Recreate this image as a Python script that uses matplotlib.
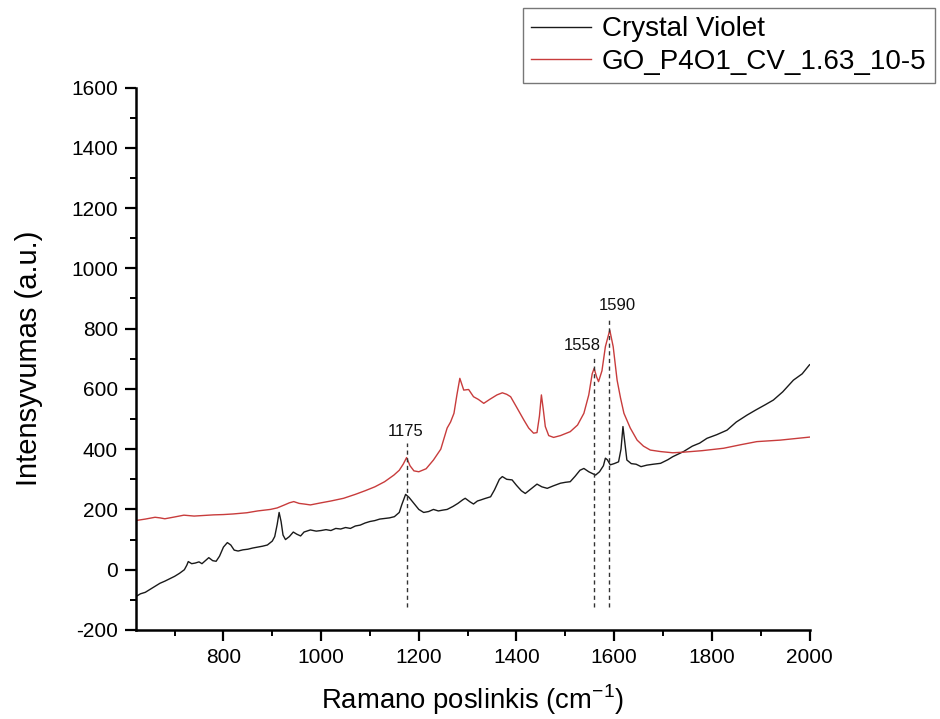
import matplotlib
matplotlib.use("Agg")
import matplotlib.pyplot as plt
from matplotlib.ticker import MultipleLocator

plt.rcParams['font.family'] = ['Liberation Sans', 'DejaVu Sans']
plt.rcParams['axes.unicode_minus'] = False

cv_x = [620, 630, 640, 650, 660, 670, 680, 690, 700, 710, 720, 725, 728, 735, 742, 750, 756, 763, 770, 778,
        785, 792, 800, 808, 815, 822, 830, 840, 850, 860, 870, 880, 890, 900, 905, 910, 914, 918, 922, 927,
        935, 943, 950, 958, 965, 978, 990, 1000, 1010, 1020, 1030, 1040, 1050, 1060, 1070, 1080, 1090, 1100,
        1110, 1120, 1130, 1140, 1150, 1160, 1165, 1173, 1180, 1190, 1200, 1210, 1220, 1230, 1240, 1250, 1258,
        1270, 1280, 1290, 1295, 1305, 1312, 1320, 1326, 1335, 1347, 1355, 1365, 1371, 1380, 1391, 1400, 1410,
        1418, 1425, 1435, 1442, 1452, 1463, 1475, 1490, 1500, 1510, 1520, 1530, 1538, 1548, 1562, 1570, 1578,
        1582, 1586, 1592, 1600, 1609, 1614, 1618, 1622, 1626, 1635, 1645, 1655, 1667, 1680, 1695, 1710, 1720,
        1742, 1760, 1775, 1790, 1810, 1831, 1850, 1872, 1890, 1910, 1926, 1945, 1967, 1985, 2000]
cv_y = [-90, -80, -75, -65, -55, -45, -38, -30, -22, -12, 0, 15, 27, 20, 22, 26, 20, 30, 40, 30,
        28, 45, 75, 90, 82, 65, 62, 66, 68, 72, 75, 78, 82, 95, 110, 150, 190, 160, 115, 100,
        110, 125, 118, 112, 125, 132, 128, 130, 133, 130, 137, 135, 140, 137, 145, 148, 155, 160,
        163, 168, 170, 172, 176, 190, 215, 250, 240, 220, 200, 190, 193, 200, 195, 198, 200,
        210, 220, 232, 237, 225, 218, 228, 231, 236, 242, 265, 300, 309, 300, 298, 280, 262,
        253, 262, 275, 284, 275, 270, 278, 287, 290, 292, 310, 330, 336, 325, 314, 325, 345,
        370, 365, 348, 352, 358, 400, 475, 420, 364, 352, 350, 342, 347, 350, 353, 365, 375,
        392, 410, 420, 436, 448, 463, 490, 513, 530, 548, 563, 590, 629, 650, 680]

go_x = [620, 640, 660, 670, 680, 700, 719, 740, 760, 780, 800, 820, 848, 870, 896, 910, 925, 935, 944, 955,
        965, 978, 1000, 1020, 1046, 1070, 1090, 1110, 1130, 1149, 1160, 1168, 1175, 1182, 1190, 1200, 1215,
        1230, 1245, 1258, 1265, 1272, 1278, 1284, 1292, 1302, 1312, 1322, 1333, 1345, 1360, 1371, 1380, 1388,
        1400, 1415, 1425, 1435, 1442, 1447, 1451, 1455, 1459, 1466, 1476, 1490, 1510, 1525, 1538, 1548, 1555,
        1559, 1564, 1568, 1575, 1582, 1591, 1598, 1606, 1613, 1620, 1633, 1647, 1660, 1674, 1695, 1720, 1742,
        1780, 1824, 1860, 1892, 1940, 1970, 2000]
go_y = [163, 168, 174, 172, 169, 175, 181, 178, 180, 182, 183, 185, 189, 195, 200, 205, 215, 222, 226, 220,
        218, 215, 222, 228, 237, 250, 262, 275, 292, 314, 330, 350, 372, 345, 328, 325, 335,
        364, 400, 470, 490, 519, 580, 635, 596, 598, 574, 565, 552, 565, 580, 587, 582, 574,
        540, 497, 470, 453, 455, 510, 580, 530, 475, 445, 439, 445, 458, 480, 519, 580, 650,
        668, 640, 624, 660, 740, 795, 740, 629, 570, 519, 470, 430, 410, 397, 392, 388, 390,
        395, 403, 415, 425, 430, 435, 440]

peak_pos = [1175, 1558, 1590]
peak_labels = ["1175", "1558", "1590"]
peak_top = [420, 705, 840]
peak_text_x = [1173, 1534, 1606]
peak_text_y = [458, 745, 878]

fig = plt.figure(figsize=(9.40, 7.19), dpi=100)
ax = fig.add_axes([0.1447, 0.1238, 0.7165, 0.7545])

l1, = ax.plot(cv_x, cv_y, color='#1a1a1a', lw=1.0, label='Crystal Violet')
l2, = ax.plot(go_x, go_y, color='#c83c3c', lw=1.0, label='GO_P4O1_CV_1.63_10-5')

for p, t, lab, tx, ty in zip(peak_pos, peak_top, peak_labels, peak_text_x, peak_text_y):
    ax.plot([p, p], [-125, t], color='#333333', lw=1.0, ls=(0, (3, 2.5)))
    ax.text(tx, ty, lab, ha='center', va='center', fontsize=12, color='#111111')

ax.set_xlim(621, 2000)
ax.set_ylim(-200, 1600)
ax.xaxis.set_major_locator(MultipleLocator(200))
ax.xaxis.set_minor_locator(MultipleLocator(100))
ax.yaxis.set_major_locator(MultipleLocator(200))
ax.yaxis.set_minor_locator(MultipleLocator(100))

for s in ['top', 'right']:
    ax.spines[s].set_visible(False)
for s in ['left', 'bottom']:
    ax.spines[s].set_linewidth(1.8)

ax.tick_params(which='major', direction='out', length=8, width=1.6, labelsize=15, pad=5)
ax.tick_params(which='minor', direction='out', length=4.5, width=1.4)

ax.set_xlabel('Ramano poslinkis (cm$^{\\mathregular{-1}}$)', fontsize=19.8, labelpad=11)
ax.set_ylabel('Intensyvumas (a.u.)', fontsize=21, labelpad=20)

leg = fig.legend(handles=[l1, l2], loc='upper right', bbox_to_anchor=(935 / 940, 1 - 8 / 719),
                 fontsize=20, frameon=True, fancybox=False, edgecolor='#555555',
                 handlelength=2.16, handletextpad=0.4, labelspacing=0.24, borderpad=0.3,
                 borderaxespad=0)
leg.get_frame().set_linewidth(1.0)

fig.savefig('out.png', dpi=100)
